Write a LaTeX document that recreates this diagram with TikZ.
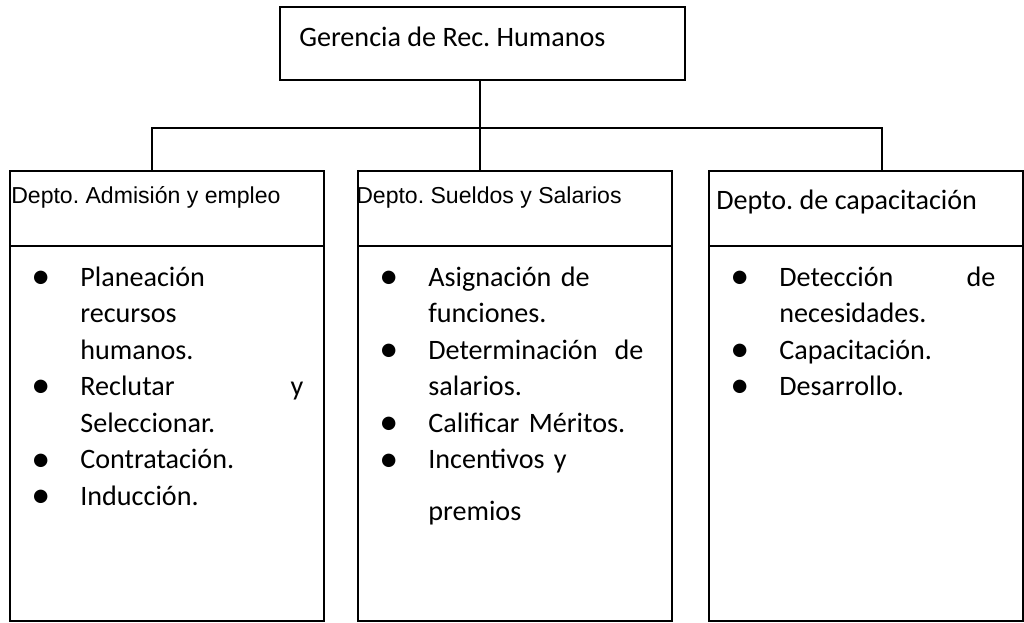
\documentclass[tikz,border=0pt]{standalone}
\usepackage{fontspec}
\setmainfont{Carlito}
\newfontfamily\arialfont{Liberation Sans}
\usetikzlibrary{positioning}
\frenchspacing

\newcommand{\pxu}{0.025cm}
\newcommand{\bul}{\makebox[34.9pt][l]{\raisebox{-1.6pt}{\scalebox{1.35}{\textbullet}}}}
\newcommand{\ind}{\hspace*{34.9pt}}

\tikzset{
  orgbox/.style={draw, line width=1.3pt, inner sep=0pt, outer sep=0pt},
  depthead/.style={orgbox, minimum width=7.85cm, minimum height=1.875cm},
  deptbody/.style={orgbox, minimum width=7.85cm, minimum height=9.375cm},
  link/.style={line width=1.3pt},
  calib/.style={font=\fontsize{20}{26}\selectfont, inner sep=0pt, anchor=base west},
  arial/.style={font=\arialfont\fontsize{16.4}{20}\selectfont, inner sep=0pt, anchor=base west},
  itemlist/.style={calib, align=left}
}

\begin{document}
\begin{tikzpicture}[x=\pxu, y=-\pxu]
  \useasboundingbox (0,0) rectangle (1024,623);
  % Gerencia
  \node[orgbox, minimum width=10.125cm, minimum height=1.825cm] (gerencia) at (482.5,43.5) {};
  \node[calib] (gerenciatxt) at (299,47) {Gerencia de Rec. Humanos};
  % Departamentos
  \node[depthead] (admhead) at (167,208.5) {};
  \node[depthead, right=0.85cm of admhead] (sueldohead) {};
  \node[depthead, right=0.925cm of sueldohead] (caphead) {};
  \node[deptbody, below=0pt of admhead] (admbody) {};
  \node[deptbody, below=0pt of sueldohead] (sueldobody) {};
  \node[deptbody, below=0pt of caphead] (capbody) {};
  \node[arial] (admtxt) at (11,203) {Depto. Admisión y empleo};
  \node[arial] (sueldotxt) at (356,203) {Depto. Sueldos y Salarios};
  \node[calib] (captxt) at (716,209) {Depto. de capacitación};
  % Funciones
  \node[itemlist, text width=193.5pt] (admlist) at (31,286) {\bul Planeación\\
    \ind recursos\\ \ind humanos.\\ \bul Reclutar\hfill y\\ \ind Seleccionar.\\
    \bul Contratación.\\ \bul Inducción.};
  \node[itemlist, text width=187.8pt] (sueldolist) at (379,286) {\bul Asignación de\\
    \ind funciones.\\ \bul Determinación\hfill de\\ \ind salarios.\\
    \bul Calificar Méritos.\\ \bul Incentivos y\\[11pt] \ind premios};
  \node[itemlist, text width=188.5pt] (caplist) at (730,286) {\bul Detección\hfill de\\
    \ind necesidades.\\ \bul Capacitación.\\ \bul Desarrollo.};
  % Conectores
  \coordinate (bus) at (480,128);
  \coordinate (busleft) at (152,128);
  \coordinate (busright) at (882,128);
  \draw[link] (gerencia.south -| bus) -- (bus);
  \draw[link] (admhead.north -| busleft) -- (busleft) -- (busright) -- (caphead.north -| busright);
  \draw[link] (bus) -- (sueldohead.north -| bus);
\end{tikzpicture}
\end{document}
